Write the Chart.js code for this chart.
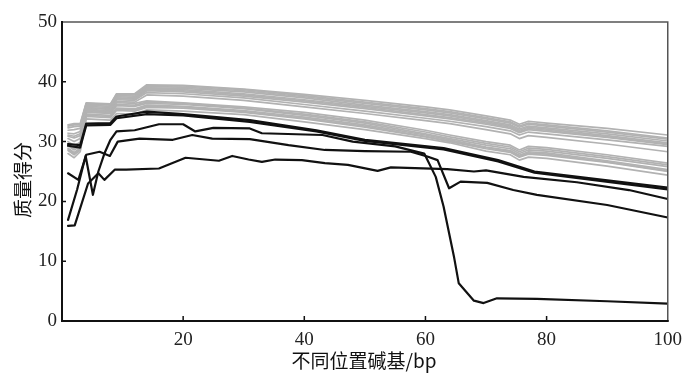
<!DOCTYPE html>
<html><head><meta charset="utf-8">
<script src="https://cdn.jsdelivr.net/npm/chart.js@4.4.1/dist/chart.umd.min.js"></script>
<style>html,body{margin:0;padding:0;background:#fff}#wrap{width:690px;height:383px;position:relative}</style>
</head><body><div id="wrap"><canvas id="c"></canvas></div>
<script>
// ---- data ----
const xTickLabels = [20, 40, 60, 80, 100];
const yTickLabels = [0, 10, 20, 30, 40, 50];
const xTitle = "不同位置碱基/bp";
const yTitle = "质量得分";

// shared positions for the gray (normal) series
const grayX = [1, 2, 3, 4, 8, 9, 12, 14, 20, 30, 40, 50, 60, 64, 70, 74, 75.5, 77, 80, 90, 100];
const gray1  = [32.8, 33.0, 33.0, 36.5, 36.3, 38.0, 38.0, 39.5, 39.4, 38.8, 37.9, 36.9, 35.8, 35.3, 34.3, 33.6, 32.9, 33.4, 33.1, 32.2, 31.1];
const gray2  = [32.6, 32.8, 32.8, 36.4, 36.2, 37.9, 37.9, 39.3, 39.3, 38.7, 37.7, 36.6, 35.5, 35.0, 34.0, 33.3, 32.6, 33.1, 32.8, 31.8, 30.6];
const gray3  = [32.3, 32.5, 32.6, 36.3, 36.1, 37.8, 37.8, 39.2, 39.1, 38.5, 37.5, 36.4, 35.3, 34.8, 33.8, 33.1, 32.4, 32.9, 32.6, 31.6, 30.4];
const gray4  = [31.9, 32.0, 32.2, 36.1, 35.9, 37.7, 37.6, 39.0, 38.9, 38.3, 37.3, 36.1, 35.0, 34.5, 33.5, 32.8, 32.1, 32.6, 32.3, 31.3, 30.1];
const gray5  = [31.4, 31.3, 31.7, 35.9, 35.7, 37.5, 37.4, 38.8, 38.7, 38.0, 37.0, 35.9, 34.8, 34.3, 33.3, 32.6, 31.9, 32.4, 32.1, 31.0, 29.8];
const gray6  = [31.1, 30.9, 31.3, 35.7, 35.5, 37.3, 37.2, 38.6, 38.5, 37.8, 36.8, 35.7, 34.5, 34.0, 33.1, 32.4, 31.7, 32.2, 31.9, 30.8, 29.6];
const gray7  = [30.9, 30.6, 31.0, 35.6, 35.4, 37.2, 37.1, 38.5, 38.3, 37.6, 36.6, 35.5, 34.3, 33.8, 32.9, 32.2, 31.5, 32.0, 31.7, 30.7, 29.5];
const gray8  = [30.5, 30.0, 30.5, 35.4, 35.2, 37.0, 36.9, 38.2, 38.0, 37.3, 36.2, 35.1, 33.9, 33.4, 32.5, 31.8, 31.1, 31.6, 31.3, 30.3, 29.2];
const gray9  = [30.0, 29.3, 29.9, 35.2, 35.0, 36.7, 36.6, 37.8, 37.6, 36.9, 35.8, 34.7, 33.5, 33.0, 32.0, 31.3, 30.5, 31.0, 30.7, 29.6, 28.3];
const gray10 = [29.7, 29.0, 29.5, 35.2, 35.0, 36.5, 36.4, 36.8, 36.5, 35.8, 34.9, 33.6, 31.9, 31.1, 30.0, 29.4, 28.6, 29.2, 29.0, 27.8, 26.4];
const gray11 = [29.5, 28.8, 29.3, 35.0, 34.8, 36.2, 36.1, 36.6, 36.4, 35.6, 34.6, 33.3, 31.6, 30.8, 29.7, 29.1, 28.3, 28.9, 28.7, 27.5, 26.1];
const gray12 = [29.3, 28.6, 29.2, 34.9, 34.7, 36.0, 35.9, 36.4, 36.2, 35.5, 34.4, 33.1, 31.3, 30.5, 29.4, 28.8, 28.0, 28.6, 28.4, 27.2, 25.8];
const gray13 = [28.9, 28.2, 28.9, 34.6, 34.4, 35.6, 35.5, 36.1, 35.9, 35.2, 34.1, 32.8, 31.1, 30.3, 29.1, 28.5, 27.7, 28.3, 28.1, 26.8, 25.3];
const gray14 = [28.7, 28.0, 28.7, 34.4, 34.2, 35.4, 35.3, 35.9, 35.8, 35.0, 33.9, 32.6, 30.9, 30.1, 29.0, 28.4, 27.5, 28.1, 27.9, 26.6, 25.1];
const gray15 = [28.5, 27.8, 28.6, 34.2, 34.0, 35.2, 35.1, 35.7, 35.6, 34.9, 33.8, 32.4, 30.8, 30.0, 28.8, 28.2, 27.4, 27.9, 27.7, 26.5, 25.0];
const gray16 = [28.0, 27.3, 28.3, 33.8, 33.6, 34.7, 34.6, 35.3, 35.1, 34.5, 33.3, 32.0, 30.5, 29.8, 28.4, 27.8, 26.9, 27.4, 27.2, 25.9, 24.4];
const grays = [gray1, gray2, gray3, gray4, gray5, gray6, gray7, gray8, gray9, gray10, gray11, gray12, gray13, gray14, gray15, gray16];

// black (abnormal) series, each with its own positions
const black1X = [1, 3, 4, 8, 9, 14, 20, 31, 42, 50, 63, 72, 78, 100];
const black1Y = [29.6, 29.4, 33.0, 33.1, 34.2, 35.0, 34.6, 33.6, 31.9, 30.3, 28.9, 26.9, 25.0, 22.3];
const black2X = [1, 3, 4, 8, 9, 14, 20, 31, 42, 50, 63, 72, 78, 100];
const black2Y = [29.3, 29.0, 32.7, 32.8, 33.9, 34.6, 34.4, 33.3, 31.7, 30.1, 28.7, 26.7, 24.8, 22.0];
const black3X = [1, 2.5, 3.9, 5.1, 6, 7, 8, 9, 12, 16, 20, 22, 25, 31, 33, 43, 48, 55, 59.8, 61.7, 63, 64.7, 65.5, 68, 69.6, 71.8, 78.4, 90, 100];
const black3Y = [16.9, 22.0, 27.6, 21.1, 25.0, 28.0, 30.3, 31.7, 31.9, 32.9, 32.9, 31.7, 32.3, 32.2, 31.4, 31.1, 30.0, 29.2, 28.0, 24.1, 19.1, 10.8, 6.3, 3.4, 3.0, 3.8, 3.7, 3.3, 2.9];
const black4X = [1, 2.7, 4, 6.2, 7.9, 9.2, 12.8, 18.3, 21.5, 24.8, 31, 37.4, 43.4, 50, 57.6, 60.3, 62, 63.9, 65.8, 70.2, 74.5, 78.4, 90, 100];
const black4Y = [24.7, 23.6, 27.8, 28.3, 27.6, 30.0, 30.5, 30.3, 31.1, 30.5, 30.4, 29.4, 28.6, 28.4, 28.3, 27.5, 26.9, 22.2, 23.3, 23.1, 21.9, 21.1, 19.4, 17.3];
const black5X = [1, 2.1, 4.3, 6, 7, 8.7, 10.6, 16, 20.4, 25.9, 28.1, 30.8, 33, 35.2, 39.6, 43.4, 47.2, 52.1, 54.3, 63.6, 68, 70, 76.2, 85, 93.6, 100];
const black5Y = [15.9, 16.0, 23.0, 24.7, 23.6, 25.3, 25.3, 25.5, 27.3, 26.8, 27.6, 27.0, 26.6, 27.0, 26.9, 26.4, 26.1, 25.1, 25.7, 25.4, 25.0, 25.2, 24.1, 23.2, 21.9, 20.4];
const blacks = [[black1X, black1Y], [black2X, black2Y], [black3X, black3Y], [black4X, black4Y], [black5X, black5Y]];

// ---- chart ----
const datasets = [];
blacks.forEach(([xs, ys]) => {
  datasets.push({data: xs.map((x, i) => ({x, y: ys[i]})), borderColor: '#111', borderWidth: 2.2});
});
grays.forEach(ys => {
  datasets.push({data: grayX.map((x, i) => ({x, y: ys[i]})), borderColor: '#b2b2b2', borderWidth: 1.7});
});

const FONT = '"Liberation Serif", "Times New Roman", serif';
const CJK = '"Noto Sans CJK SC", sans-serif';

const decor = {
  id: 'decor',
  afterDatasetsDraw(chart) {
    const {ctx, chartArea: a, scales: {x, y}} = chart;
    ctx.save();
    ctx.strokeStyle = '#555';
    ctx.lineWidth = 1.5;
    ctx.beginPath();
    ctx.moveTo(a.left, a.top); ctx.lineTo(a.right, a.top); ctx.lineTo(a.right, a.bottom);
    ctx.stroke();
    ctx.strokeStyle = '#111';
    ctx.lineWidth = 2;
    ctx.beginPath();
    ctx.moveTo(a.left, a.top - 1); ctx.lineTo(a.left, a.bottom); ctx.lineTo(a.right + 1, a.bottom);
    ctx.stroke();
    ctx.lineWidth = 1.5;
    ctx.beginPath();
    xTickLabels.forEach(v => { if (v < 100) { const px = x.getPixelForValue(v); ctx.moveTo(px, a.bottom); ctx.lineTo(px, a.bottom - 5); } });
    yTickLabels.forEach(v => { if (v > 0 && v < 50) { const py = y.getPixelForValue(v); ctx.moveTo(a.left, py); ctx.lineTo(a.left + 4, py); } });
    ctx.stroke();
    ctx.fillStyle = '#111';
    ctx.font = '19px ' + CJK;
    ctx.textAlign = 'center';
    ctx.textBaseline = 'middle';
    ctx.fillText(xTitle, 364, 361);
    ctx.translate(23, 180);
    ctx.rotate(-Math.PI / 2);
    ctx.fillText(yTitle, 0, 0);
    ctx.restore();
  }
};

new Chart(document.getElementById('c'), {
  type: 'line',
  data: {datasets},
  options: {
    responsive: true,
    maintainAspectRatio: false,
    animation: false,
    layout: {padding: {top: 22, right: 18, left: 0, bottom: 0}},
    elements: {point: {radius: 0}, line: {tension: 0, borderJoinStyle: 'round', borderCapStyle: 'round'}},
    plugins: {legend: {display: false}, tooltip: {enabled: false}},
    scales: {
      x: {
        type: 'linear', min: 0, max: 100,
        afterFit(s) { s.height = 62; },
        afterBuildTicks(s) { s.ticks = xTickLabels.map(v => ({value: v})); },
        grid: {display: false, drawTicks: false},
        border: {display: false},
        ticks: {padding: 8, color: '#222', font: {family: FONT, size: 19}, maxRotation: 0, autoSkip: false}
      },
      y: {
        type: 'linear', min: 0, max: 50,
        afterFit(s) { s.width = 62; },
        afterBuildTicks(s) { s.ticks = yTickLabels.map(v => ({value: v})); },
        grid: {display: false, drawTicks: false},
        border: {display: false},
        ticks: {padding: 5, color: '#222', font: {family: FONT, size: 19}}
      }
    }
  },
  plugins: [decor]
});
</script>
</body></html>
